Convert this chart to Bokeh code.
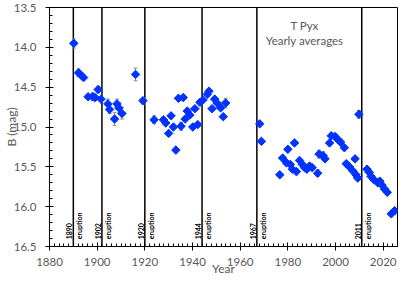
import numpy as np
from math import pi
from bokeh.plotting import figure
from bokeh.models import (ColumnDataSource, Whisker, TeeHead, Span, Range1d,
                          FixedTicker, PrintfTickFormatter)
from bokeh.core.properties import value
from bokeh.embed import file_html
from bokeh.resources import INLINE

# ---- data ----
years = [1890.2, 1892.2, 1893.3, 1894.3, 1896.2, 1898.1, 1899.1, 1900.4, 1901.6,
         1904.5, 1905.2, 1907.3, 1908.3, 1909.1, 1910.4, 1916.1, 1919.2, 1923.9,
         1927.8, 1928.8, 1930.0, 1931.0, 1932.0, 1933.0, 1934.1, 1935.2, 1936.1,
         1936.9, 1937.8, 1938.9, 1940.1, 1941.0, 1942.2, 1943.1, 1944.4, 1946.2,
         1946.9, 1948.2, 1949.3, 1950.3, 1951.8, 1952.9, 1953.9, 1968.2, 1968.9,
         1976.6, 1977.8, 1979.4, 1980.0, 1981.0, 1981.9, 1982.8, 1983.6, 1984.9,
         1986.1, 1987.0, 1988.0, 1989.1, 1990.2, 1992.5, 1993.1, 1994.8, 1995.6,
         1997.5, 1998.2, 1999.8, 2001.0, 2002.1, 2003.7, 2004.5, 2005.8, 2007.2,
         2008.2, 2008.6, 2009.3, 2009.8, 2013.2, 2014.2, 2014.9, 2016.0, 2017.7,
         2018.6, 2019.5, 2020.6, 2021.7, 2023.4, 2024.8]
mags = [13.95, 14.32, 14.35, 14.38, 14.62, 14.62, 14.63, 14.53, 14.65,
        14.71, 14.78, 14.90, 14.71, 14.76, 14.83, 14.34, 14.67, 14.91,
        14.91, 14.95, 15.08, 14.86, 15.00, 15.29, 14.64, 14.99, 14.63,
        14.90, 14.80, 14.85, 15.00, 14.77, 14.97, 14.69, 14.66, 14.59,
        14.55, 14.77, 14.65, 14.70, 14.76, 14.87, 14.70, 14.96, 15.18,
        15.60, 15.39, 15.45, 15.28, 15.47, 15.53, 15.20, 15.56, 15.42,
        15.47, 15.51, 15.53, 15.49, 15.51, 15.58, 15.34, 15.36, 15.40,
        15.20, 15.11, 15.12, 15.16, 15.19, 15.26, 15.46, 15.50, 15.55,
        15.40, 15.60, 15.64, 14.84, 15.53, 15.57, 15.62, 15.66, 15.70,
        15.68, 15.73, 15.78, 15.82, 16.09, 16.05]
errs = [0.06, 0.05, 0.03, 0.03, 0.03, 0.05, 0.04, 0.04, 0.03,
        0.06, 0.05, 0.08, 0.06, 0.07, 0.07, 0.08, 0.04, 0.05,
        0.02, 0.02, 0.02, 0.02, 0.02, 0.02, 0.02, 0.05, 0.02,
        0.02, 0.02, 0.02, 0.02, 0.02, 0.02, 0.02, 0.02, 0.02,
        0.02, 0.02, 0.02, 0.02, 0.02, 0.02, 0.06, 0.02, 0.02,
        0.02, 0.02, 0.02, 0.02, 0.02, 0.02, 0.02, 0.04, 0.02,
        0.02, 0.02, 0.02, 0.02, 0.02, 0.04, 0.05, 0.05, 0.03,
        0.02, 0.02, 0.02, 0.02, 0.02, 0.02, 0.02, 0.02, 0.02,
        0.02, 0.02, 0.02, 0.05, 0.02, 0.02, 0.02, 0.02, 0.02,
        0.02, 0.02, 0.02, 0.02, 0.02, 0.02]

eruption_years = [1890, 1902, 1920, 1944, 1967, 2011]
eruption_labels = ["1890", "1902", "1920", "1944", "1967", "2011"]
x_ticks = [1880, 1900, 1920, 1940, 1960, 1980, 2000, 2020]
y_ticks = [13.5, 14.0, 14.5, 15.0, 15.5, 16.0, 16.5]
title_lines = ["T Pyx", "Yearly averages"]
x_label = "Year"
y_label = "B (mag)"

FONT = "Lato"
GREY = "#595959"
BLUE = "#0033ff"

src = ColumnDataSource(dict(
    x=years, y=mags,
    upper=[m + e for m, e in zip(mags, errs)],
    lower=[m - e for m, e in zip(mags, errs)],
))

p = figure(frame_width=348, frame_height=239, output_backend="svg",
           toolbar_location=None,
           x_range=Range1d(1880, 2026), y_range=Range1d(16.5, 13.5),
           min_border_top=7, min_border_right=2, min_border_left=49,
           min_border_bottom=35)
p.background_fill_color = "white"
p.border_fill_color = "white"
p.outline_line_color = "black"
p.outline_line_width = 1
p.xgrid.visible = False
p.ygrid.visible = False

# eruption lines
for yr in eruption_years:
    p.add_layout(Span(location=yr, dimension="height", line_color="black",
                      line_width=1.5, level="underlay"))

# error bars
p.add_layout(Whisker(source=src, base="x", upper="upper", lower="lower",
                     dimension="height", line_color="#8c8c8c", line_width=1,
                     upper_head=TeeHead(size=4, line_color="#8c8c8c", line_width=1),
                     lower_head=TeeHead(size=4, line_color="#8c8c8c", line_width=1)))

# points
p.scatter("x", "y", source=src, marker="square", size=6, angle=pi / 4,
          fill_color=BLUE, line_color=BLUE)

# eruption annotations
esrc = ColumnDataSource(dict(x=eruption_years, y=[16.41] * len(eruption_years),
                             yr=eruption_labels,
                             word=["eruption"] * len(eruption_years)))
p.text("x", "y", text="yr", source=esrc, angle=pi / 2, x_offset=-1,
       text_align="left", text_baseline="bottom",
       text_font=value(FONT), text_font_size="7px", text_font_style="bold",
       text_color="black")
p.text("x", "y", text="word", source=esrc, angle=pi / 2, x_offset=2,
       text_align="left", text_baseline="top",
       text_font=value(FONT), text_font_size="7px", text_font_style="bold",
       text_color="black")

# title text
tsrc = ColumnDataSource(dict(x=[1987, 1987], y=[13.72, 13.91], t=title_lines))
p.text("x", "y", text="t", source=tsrc, text_align="center",
       text_baseline="middle", text_font=value(FONT), text_font_size="11.5px",
       text_color=GREY)

# axes
p.xaxis.ticker = FixedTicker(ticks=x_ticks,
                             minor_ticks=list(np.arange(1880, 2027, 2)))
p.yaxis.ticker = FixedTicker(ticks=y_ticks,
                             minor_ticks=list(np.round(np.arange(13.5, 16.51, 0.1), 2)))
p.yaxis.formatter = PrintfTickFormatter(format="%.1f")
p.xaxis.axis_label = x_label
p.yaxis.axis_label = y_label
for ax in (p.xaxis, p.yaxis):
    ax.axis_line_color = "black"
    ax.axis_line_width = 1
    ax.major_tick_line_color = "black"
    ax.minor_tick_line_color = "black"
    ax.major_tick_in = 4
    ax.major_tick_out = 4
    ax.minor_tick_in = 3
    ax.minor_tick_out = 0
    ax.major_label_text_font = FONT
    ax.major_label_text_font_size = "11.5px"
    ax.major_label_text_color = GREY
    ax.axis_label_text_font = FONT
    ax.axis_label_text_font_size = "12px"
    ax.axis_label_text_font_style = "normal"
    ax.axis_label_text_color = GREY
p.xaxis.major_label_standoff = 7
p.xaxis.axis_label_standoff = -8
p.yaxis.major_label_standoff = 9
p.yaxis.axis_label_standoff = -8

open("out.html", "w").write(file_html(p, INLINE))
